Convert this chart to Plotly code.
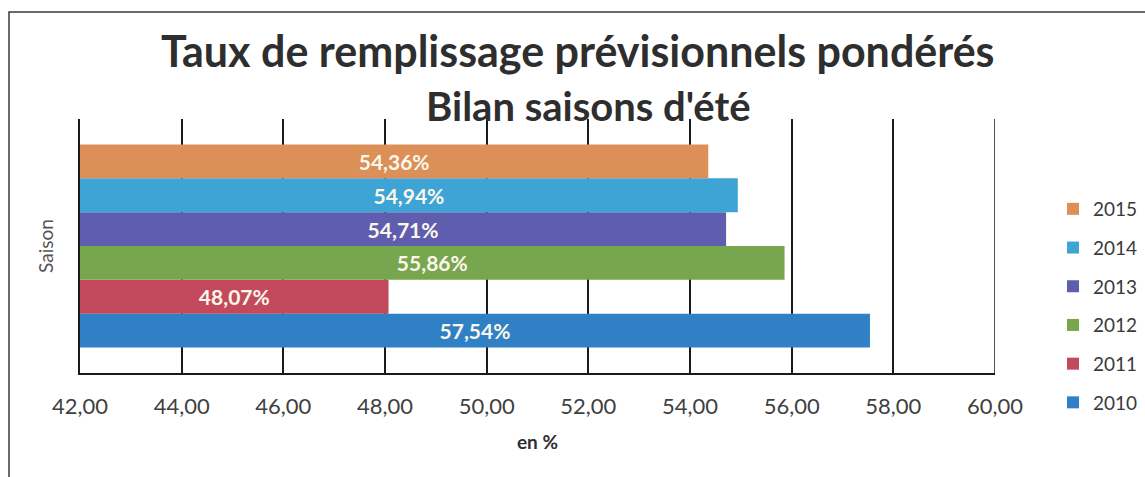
import plotly.graph_objects as go

# Data
seasons = ["2010", "2011", "2012", "2013", "2014", "2015"]
values = [57.54, 48.07, 55.86, 54.71, 54.94, 54.36]
category = ["Saison"]
x_ticks = [42, 44, 46, 48, 50, 52, 54, 56, 58, 60]
axis_min, axis_max = 42, 60

colors = {
    "2010": "#2F80C4",
    "2011": "#C24A5C",
    "2012": "#78A64F",
    "2013": "#5F5DAE",
    "2014": "#3EA3D5",
    "2015": "#DC8F56",
}

FONT = "Lato"

W, H = 1145, 477
L, R, T, B = 80, 150, 119, 104
pw, ph = W - L - R, H - T - B


def px_x(p):
    return (p - L) / pw


def px_y(p):
    return (T + ph - p) / ph


fig = go.Figure()
n = len(seasons)
for i, (s, v) in enumerate(zip(seasons, values)):
    fig.add_trace(go.Bar(
        name=s,
        y=category,
        x=[v - axis_min],
        base=[axis_min],
        customdata=[v],
        orientation="h",
        marker=dict(color=colors[s], line=dict(width=0)),
        texttemplate="%{customdata:.2f}%",
        textposition="inside",
        insidetextanchor="middle",
        textangle=0,
        textfont=dict(family=FONT, size=21, color="#FBF7EC", weight="bold"),
        legendgroup=s,
        legendrank=n - i,
        hovertemplate="%{customdata:.2f}%<extra>" + s + "</extra>",
    ))

fig.update_layout(
    width=W, height=H,
    margin=dict(l=L, r=R, t=T, b=B, autoexpand=False),
    paper_bgcolor="white",
    plot_bgcolor="white",
    separators=", ",
    barmode="group",
    bargap=0.2,
    bargroupgap=0,
    showlegend=True,
    legend=dict(
        traceorder="grouped",
        tracegroupgap=11,
        font=dict(family=FONT, size=19, color="#3A3A3A"),
        x=px_x(1053), xanchor="left",
        y=px_y(190), yanchor="top",
        bgcolor="rgba(0,0,0,0)",
        itemwidth=30,
    ),
    font=dict(family=FONT, color="#404040"),
)

# Title as two annotations (two lines)
fig.add_annotation(
    text="Taux de remplissage prévisionnels pondérés",
    xref="paper", yref="paper", x=px_x(578), y=px_y(50),
    xanchor="center", yanchor="middle", showarrow=False,
    font=dict(family=FONT, size=43, color="#2E2E2E", weight="bold"),
)
fig.add_annotation(
    text="Bilan saisons d'été",
    xref="paper", yref="paper", x=px_x(588), y=px_y(106),
    xanchor="center", yanchor="middle", showarrow=False,
    font=dict(family=FONT, size=40, color="#2E2E2E", weight="bold"),
)

fig.update_xaxes(
    range=[axis_min, axis_max],
    tickvals=x_ticks,
    tickformat=".2f",
    showgrid=True, gridcolor="#1A1A1A", gridwidth=1.5,
    showline=True, linecolor="#1A1A1A", linewidth=1.5,
    zeroline=False,
    ticks="",
    automargin=False,
    ticklabelstandoff=13,
    tickfont=dict(family=FONT, size=22, color="#3F3F3F"),
    title=dict(text="en %", font=dict(family=FONT, size=19, color="#2E2E2E", weight="bold"), standoff=18),
)
fig.update_yaxes(
    showticklabels=False,
    showgrid=False,
    showline=True, linecolor="#1A1A1A", linewidth=1.5,
    zeroline=False,
    ticks="",
    automargin=False,
    title=dict(text="Saison", font=dict(family=FONT, size=19, color="#555555"), standoff=20),
)

# Right-edge gridline at axis max
fig.add_shape(
    type="line", xref="x", yref="paper",
    x0=axis_max, x1=axis_max, y0=0, y1=1,
    line=dict(color="#1A1A1A", width=1.5),
    layer="below",
)

# Outer chart border
fig.add_shape(
    type="rect", xref="paper", yref="paper",
    x0=px_x(9), x1=px_x(W + 10),
    y0=px_y(H + 10), y1=px_y(12),
    line=dict(color="#3A3A3A", width=1.5),
    fillcolor="rgba(0,0,0,0)",
    layer="below",
)

fig.write_html(
    "out.html",
    config={"displayModeBar": False},
    post_script="document.body.style.margin='0';document.body.style.overflow='hidden';",
)
